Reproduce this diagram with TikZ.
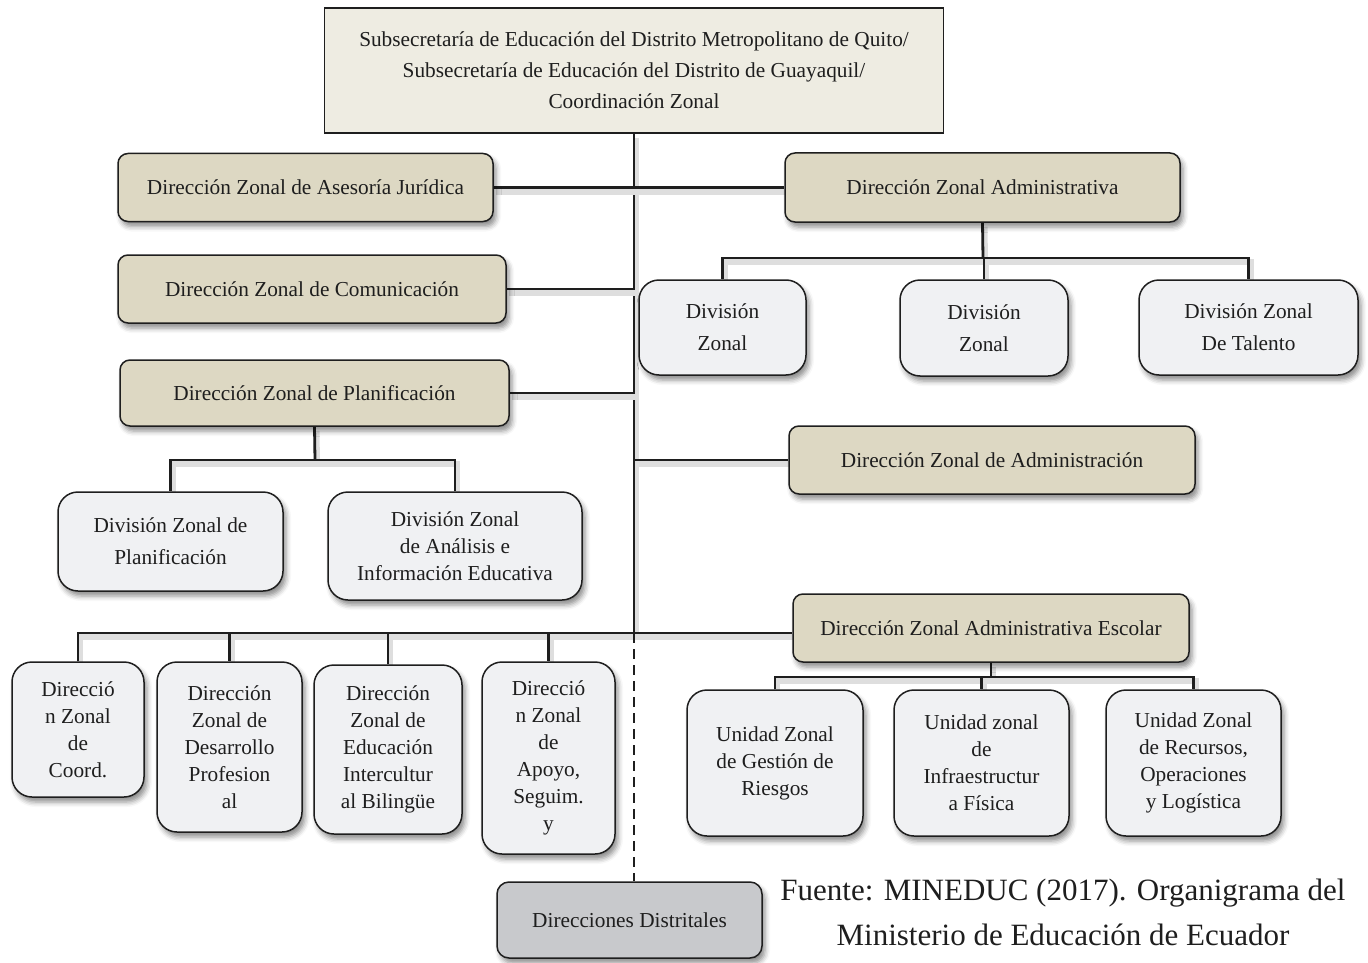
\documentclass[tikz,border=0pt]{standalone}
\usepackage{fontspec}
\setmainfont{Liberation Serif}
\usetikzlibrary{shadows.blur}
\pgfdeclarelayer{background}
\pgfsetlayers{background,main}

\definecolor{topfill}{HTML}{EEECE2}
\definecolor{tanfill}{HTML}{DDD8C3}
\definecolor{boxfill}{HTML}{F0F1F3}
\definecolor{greyfill}{HTML}{C8C9CC}
\definecolor{ink}{HTML}{1E1E1E}

\tikzset{
  boxbase/.style={draw=ink, line width=1.5pt, align=center, text=ink,
    font=\fontsize{21.3}{27}\selectfont, inner sep=2pt,
    blur shadow={shadow xshift=3pt, shadow yshift=-5pt,
      shadow blur radius=5pt, shadow opacity=45}},
  tanbox/.style={boxbase, fill=tanfill, rounded corners=10pt},
  whitebox/.style={boxbase, fill=boxfill, rounded corners=20pt},
  greybox/.style={boxbase, fill=greyfill, rounded corners=12pt},
  headbox/.style={draw=ink, line width=1.5pt, fill=topfill, align=center,
    text=ink, font=\fontsize{21.3}{31}\selectfont},
  wide/.style={font=\fontsize{21.3}{32}\selectfont},
  conn/.style={line width=2.8pt, draw=ink,
    preaction={draw=black!13, line width=6pt,
      transform canvas={shift={(2pt,-4pt)}}}},
  dashconn/.style={line width=2.4pt, draw=ink, dash pattern=on 10pt off 6pt},
}

\begin{document}
\begin{tikzpicture}[x=1pt, y=-1pt]
\useasboundingbox (0,0) rectangle (1368,963);

% head office
\node[headbox, minimum width=619pt, minimum height=125pt] (top) at (634,70.5)
  {Subsecretaría de Educación del Distrito Metropolitano de Quito/\\
   Subsecretaría de Educación del Distrito de Guayaquil/\\
   Coordinación Zonal};

% zonal directorates
\node[tanbox, minimum width=375pt, minimum height=68pt] (asesoria) at (305.5,187.5)
  {Dirección Zonal de Asesoría Jurídica};
\node[tanbox, minimum width=395pt, minimum height=69pt] (admva) at (982.5,187.5)
  {Dirección Zonal Administrativa};
\node[tanbox, minimum width=388pt, minimum height=68pt] (comun) at (312,289)
  {Dirección Zonal de Comunicación};
\node[tanbox, minimum width=389pt, minimum height=66pt] (planif) at (314.5,393)
  {Dirección Zonal de Planificación};
\node[tanbox, minimum width=406pt, minimum height=68pt] (admin) at (992,460)
  {Dirección Zonal de Administración};
\node[tanbox, minimum width=396pt, minimum height=68pt] (escolar) at (991,628)
  {Dirección Zonal Administrativa Escolar};

% divisions under the administrative directorate
\node[whitebox, wide, minimum width=167pt, minimum height=95pt] (da1) at (722.5,327.5)
  {División\\Zonal};
\node[whitebox, wide, minimum width=168pt, minimum height=96pt] (da2) at (984,328)
  {División\\Zonal};
\node[whitebox, wide, minimum width=219pt, minimum height=95pt] (da3) at (1248.5,327.5)
  {División Zonal\\De Talento};

% divisions under planning
\node[whitebox, wide, minimum width=225pt, minimum height=99pt] (dp1) at (170.5,541.5)
  {División Zonal de\\Planificación};
\node[whitebox, minimum width=254pt, minimum height=108pt] (dp2) at (455,546)
  {División Zonal\\de Análisis e\\Información Educativa};

% zonal directorates along the lower bar
\node[whitebox, minimum width=132pt, minimum height=135pt] (e1) at (78,729.5)
  {Direcció\\n Zonal\\de\\Coord.};
\node[whitebox, minimum width=145pt, minimum height=170pt] (e2) at (229.5,747)
  {Dirección\\Zonal de\\Desarrollo\\Profesion\\al};
\node[whitebox, minimum width=148pt, minimum height=169pt] (e3) at (388,749.5)
  {Dirección\\Zonal de\\Educación\\Intercultur\\al Bilingüe};
\node[whitebox, minimum width=133pt, minimum height=192pt] (e4) at (548.5,758)
  {Direcció\\n Zonal\\de\\Apoyo,\\Seguim.\\y};

% units under the school directorate
\node[whitebox, minimum width=176pt, minimum height=146pt] (u1) at (775,763)
  {Unidad Zonal\\de Gestión de\\Riesgos};
\node[whitebox, minimum width=175pt, minimum height=146pt] (u2) at (981.5,763)
  {Unidad zonal\\de\\Infraestructur\\a Física};
\node[whitebox, minimum width=175pt, minimum height=146pt] (u3) at (1193.5,763)
  {Unidad Zonal\\de Recursos,\\Operaciones\\y Logística};

% district offices
\node[greybox, minimum width=265pt, minimum height=76pt] (distr) at (629.5,920)
  {Direcciones Distritales};

% source note
\node[align=center, text=ink, font=\fontsize{31}{45}\selectfont] (fuente) at (1063,912)
  {Fuente: MINEDUC (2017). Organigrama del\\Ministerio de Educación de Ecuador};

% junction points
\coordinate (jE) at (634,633);
\coordinate (jA) at (983,258);
\coordinate (jP) at (315,460);
\coordinate (jU) at (991,677);

\begin{pgfonlayer}{background}
  % main spine
  \draw[conn] (top.south) -- (jE);
  \draw[conn] (asesoria.east) -- (admva.west);
  \draw[conn] (comun.east) -- (comun.east -| top.south);
  \draw[conn] (planif.east) -- (planif.east -| top.south);
  \draw[conn] (admin.west -| top.south) -- (admin.west);
  \draw[conn] (jE) -- (jE -| escolar.west);
  % administrative divisions
  \draw[conn] (admva.south) -- (jA);
  \draw[conn] (da1.north) -- (da1.north |- jA) -- (da3.north |- jA) -- (da3.north);
  \draw[conn] (da2.north |- jA) -- (da2.north);
  % planning divisions
  \draw[conn] (planif.south) -- (jP);
  \draw[conn] (dp1.north) -- (dp1.north |- jP) -- (dp2.north |- jP) -- (dp2.north);
  % lower bar
  \draw[conn] (e1.north) -- (e1.north |- jE) -- (jE);
  \draw[conn] (e2.north |- jE) -- (e2.north);
  \draw[conn] (e3.north |- jE) -- (e3.north);
  \draw[conn] (e4.north |- jE) -- (e4.north);
  % school units
  \draw[conn] (escolar.south) -- (jU);
  \draw[conn] (u1.north) -- (u1.north |- jU) -- (u3.north |- jU) -- (u3.north);
  \draw[conn] (u2.north |- jU) -- (u2.north);
  % district offices
  \draw[dashconn] (jE) -- (jE |- distr.north);
\end{pgfonlayer}
\end{tikzpicture}
\end{document}
